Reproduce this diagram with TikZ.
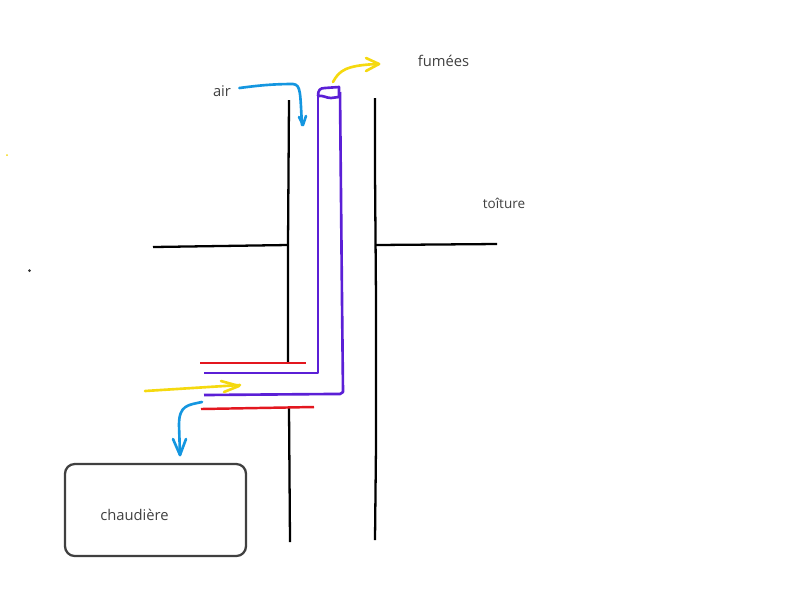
\documentclass[tikz,border=0pt]{standalone}
\usepackage{fontspec}
\setmainfont{Open Sans}
\usetikzlibrary{arrows.meta,calc}
\definecolor{flueviolet}{HTML}{5B1FD6}
\definecolor{fumeyellow}{HTML}{F5D90F}
\definecolor{airblue}{HTML}{1496E0}
\definecolor{sleevered}{HTML}{E3171F}
\definecolor{labelgrey}{HTML}{404040}
\tikzset{
  wall/.style={line width=1.3pt, black},
  flue/.style={line width=1.5pt, flueviolet, line join=round},
  sleeve/.style={line width=1.4pt, sleevered},
  fume/.style={line width=1.5pt, fumeyellow, line cap=round, line join=round},
  airflow/.style={line width=1.5pt, airblue, line cap=round, line join=round},
  label/.style={text=labelgrey, font=\fontsize{8.4}{10}\selectfont, inner sep=0pt},
}
\begin{document}
\begin{tikzpicture}[x=0.02cm, y=-0.02cm]
  \useasboundingbox (0,0) rectangle (800,600);

  % Labels
  \node[label] (air) at (222,91) {air};
  \node[label] (fumees) at (443.5,60.5) {fumées};
  \node[label, font=\fontsize{7.7}{10}\selectfont] (toiture) at (504,203.5) {toîture};

  % Boiler
  \node[draw=labelgrey, line width=1.3pt, rounded corners=5.5pt, minimum width=3.62cm,
        minimum height=1.84cm, inner sep=0pt, outer sep=0pt] (boiler) at (155.5,510) {};
  \node[label] (chaudiere) at (134.5,514.5) {chaudière};

  % Chimney walls
  \draw[wall] (289,100) -- (288,245) -- (288,363);
  \draw[wall] (289,408) -- (290,542);
  \draw[wall] (375,98) -- (375,172) -- (376,300) -- (376,445) -- (375,540);

  % Roof
  \draw[wall] (153,247) -- (288,245);
  \draw[wall] (376,245) -- (497,244);

  % Wall sleeve
  \draw[sleeve] (200,363) -- (306,363);
  \draw[sleeve] (201,409) -- (314,407);

  % Flue
  \draw[flue] (204,373) -- (318,373) -- (318,96);
  \draw[flue] (204,395) -- (330,394) -- (340,394) -- (343,392) -- (342,300) -- (340,92);
  \draw[flue] (318,96) .. controls (318,90) and (320,88) .. (325,88) -- (339,87) -- (339,97)
    -- (331,98) .. controls (326,98) and (323,95) .. (318,96);

  % Smoke arrows
  \draw[fume] (333,82) .. controls (339,71) and (345,65) .. (379,64);
  \draw[fume] (366,58) -- (379,64) -- (366,71);
  \draw[fume] (145,391) -- (240,385);
  \draw[fume] (221,381) -- (239,386) -- (224,392);

  % Air arrows
  \draw[airflow] ($(air.east)+(8,-3)$) .. controls (255,86) and (270,84) .. (293,84)
    .. controls (301,85) and (300,92) .. (302,125);
  \draw[airflow] (299,117) -- (303,125) -- (306,116);
  \draw[airflow] (202,402) .. controls (188,405) and (179,405) .. (179,425) -- (180,455);
  \draw[airflow] (173,439) -- (180,455) -- (186,439);

  % Stray dots
  \fill[fumeyellow] (7,155) circle (1);
  \fill[black!80] (29.5,270.5) circle (1.5);
\end{tikzpicture}
\end{document}
